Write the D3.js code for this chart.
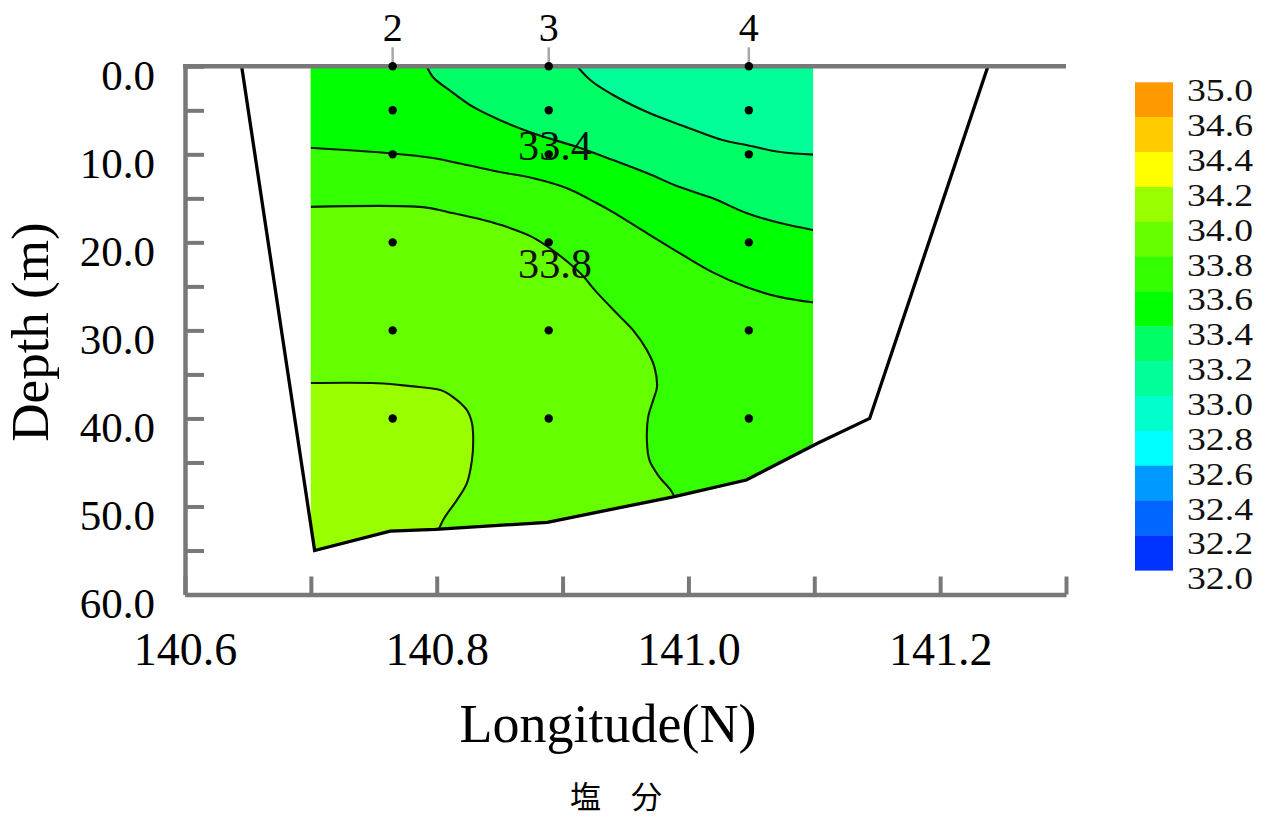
<!DOCTYPE html>
<html><head><meta charset="utf-8">
<script src="https://cdn.jsdelivr.net/npm/d3@7"></script>
<style>body{margin:0;background:#fff}svg{display:block}</style>
</head><body>
<svg id="chart" width="1274" height="817"></svg>
<script>
// ---------- data ----------
const stationNames = ["2", "3", "4"];
const stationLon = [140.765, 140.889, 141.048];
const sampleDepths = [0, 5, 10, 20, 30, 40];

const bottomLon   = [140.645, 140.703, 140.763, 140.799, 140.888, 140.988, 141.046, 141.103, 141.144, 141.238];
const bottomDepth = [0, 55.0, 52.8, 52.6, 51.8, 48.9, 47.0, 42.8, 40.0, 0];

const gridLon = [140.7, 141.099];   // extent of the gridded salinity section

// isolines: [longitude, depth]
const iso332 = [[140.906,-1],[140.922,1.56],[140.943,3.49],[140.969,5.31],[140.996,6.78],[141.027,8.38],[141.046,8.94],[141.073,9.74],[141.11,10.1]];
const iso334 = [[140.789,-1],[140.797,1.22],[140.810,2.69],[140.829,4.62],[140.850,6.10],[140.876,7.58],[140.914,9.28],[140.940,10.65],[140.967,12.13],[140.993,13.72],[141.019,14.97],[141.046,16.67],[141.073,17.81],[141.11,18.9]];
const iso336 = [[140.69,9.17],[140.765,9.9],[140.797,10.42],[140.824,11.22],[140.850,12.01],[140.876,12.69],[140.903,13.83],[140.927,15.53],[140.940,16.56],[140.967,18.94],[140.993,21.22],[141.019,23.38],[141.046,25.08],[141.073,26.22],[141.11,27.0]];
const iso338 = [[140.69,16.0],[140.789,16.0],[140.810,16.6],[140.837,17.47],[140.856,18.26],[140.876,19.40],[140.892,20.88],[140.914,23.49],[140.927,25.65],[140.946,28.49],[140.956,29.97],[140.967,32.24],[140.973,34.17],[140.975,36.44],[140.972,37.92],[140.968,39.85],[140.967,42.47],[140.969,44.74],[140.977,46.67],[140.987,48.38],[140.993,50.5]];
const iso340 = [[140.69,36.0],[140.753,36.0],[140.779,36.33],[140.803,36.78],[140.813,37.58],[140.824,39.06],[140.828,40.53],[140.829,42.47],[140.828,44.74],[140.824,47.35],[140.816,49.28],[140.805,51.56],[140.798,54]];

const isoLevels = [34.0, 33.8, 33.6, 33.4, 33.2];
const isoLines  = [iso340, iso338, iso336, iso334, iso332];
const baseColor = "#99FF00";                         // > 34.0
const bandColors = ["#66FF00", "#33FF00", "#00FF00", "#00FF66", "#00FF99"]; // fresher side of each isoline

const contourLabelText  = ["33.4", "33.8"];
const contourLabelLon   = [140.894, 140.894];
const contourLabelDepth = [10.65, 24.05];

const legendLabels = ["35.0","34.6","34.4","34.2","34.0","33.8","33.6","33.4","33.2","33.0","32.8","32.6","32.4","32.2","32.0"];
const legendColors = ["#FF9900","#FFCC00","#FFFF00","#99FF00","#66FF00","#33FF00","#00FF00","#00FF66","#00FF99","#00FFCC","#00FFFF","#0099FF","#0066FF","#0033FF"];

const xTickValues = [140.6, 140.7, 140.8, 140.9, 141.0, 141.1, 141.2, 141.3];
const yTickValues = [0, 5, 10, 15, 20, 25, 30, 35, 40, 45, 50, 55, 60];

// ---------- drawing ----------
const svg = d3.select("#chart");
const serif = "'Liberation Serif','Times New Roman',serif";
const axisGray = "#787878";

const x = d3.scaleLinear().domain([140.6, 141.3]).range([185, 1066]);
const y = d3.scaleLinear().domain([0, 60]).range([66.3, 594.5]);

const defs = svg.append("defs");
defs.append("clipPath").attr("id", "gridClip")
  .append("rect")
  .attr("x", x(gridLon[0])).attr("y", y(0))
  .attr("width", x(gridLon[1]) - x(gridLon[0]))
  .attr("height", y(60) - y(0));

const waterPts = bottomLon.map((l, i) => [l, bottomDepth[i]]);
const lin = d3.line().x(d => x(d[0])).y(d => y(d[1]));
defs.append("clipPath").attr("id", "waterClip")
  .append("path").attr("d", lin(waterPts) + "Z");

const smooth = d3.line().x(d => x(d[0])).y(d => y(d[1])).curve(d3.curveCatmullRom.alpha(0.5));

const outer = svg.append("g").attr("clip-path", "url(#gridClip)");
const field = outer.append("g").attr("clip-path", "url(#waterClip)");

// base band
field.append("rect")
  .attr("x", x(140.6)).attr("y", y(-5))
  .attr("width", x(141.3) - x(140.6)).attr("height", y(65) - y(-5))
  .attr("fill", baseColor);

// fresher side of each isoline
isoLines.forEach((pts, i) => {
  const first = pts[0], last = pts[pts.length - 1];
  const closing = [[141.3, last[1]], [141.3, -5], [first[0], -5]];
  const d = smooth(pts) + closing.map(p => "L" + x(p[0]) + "," + y(p[1])).join("") + "Z";
  field.append("path").attr("d", d).attr("fill", bandColors[i]).attr("stroke", "none");
});

// isoline strokes
isoLines.forEach(pts => {
  field.append("path").attr("d", smooth(pts))
    .attr("fill", "none").attr("stroke", "#0a1a00").attr("stroke-width", 2.1);
});

// contour labels
contourLabelText.forEach((t, i) => {
  svg.append("text")
    .attr("x", x(contourLabelLon[i])).attr("y", y(contourLabelDepth[i]))
    .attr("text-anchor", "middle")
    .attr("font-family", serif).attr("font-size", 43)
    .attr("textLength", 74).attr("lengthAdjust", "spacingAndGlyphs")
    .attr("fill", "#111").text(t);
});

// bathymetry line
svg.append("path").attr("d", lin(waterPts))
  .attr("fill", "none").attr("stroke", "#000").attr("stroke-width", 3.3)
  .attr("stroke-linejoin", "miter");

// axes
const fmt = d3.format(".1f");
const xAxis = d3.axisBottom(x).tickValues(xTickValues).tickSize(-18).tickSizeOuter(0)
  .tickFormat(d => (Math.round(d * 10) % 2 === 0) ? fmt(d) : "");
const gx = svg.append("g").attr("transform", `translate(0,${y(60)})`).call(xAxis);
gx.select(".domain").attr("stroke", axisGray).attr("stroke-width", 4.5);
gx.selectAll(".tick line").attr("stroke", axisGray).attr("stroke-width", 4);
gx.selectAll(".tick text").attr("y", 70).attr("dy", 0)
  .attr("font-family", serif).attr("font-size", 46).attr("fill", "#000");

const yAxis = d3.axisLeft(y).tickValues(yTickValues).tickSize(-19).tickSizeOuter(0)
  .tickFormat(d => d % 10 === 0 ? fmt(d) : "");
const gy = svg.append("g").attr("transform", `translate(${x(140.6)},0)`).call(yAxis);
gy.select(".domain").attr("stroke", axisGray).attr("stroke-width", 4.5);
gy.selectAll(".tick line").attr("stroke", axisGray).attr("stroke-width", 4);
gy.selectAll(".tick text").attr("x", -30).attr("y", 23).attr("dy", 0)
  .attr("text-anchor", "end")
  .attr("font-family", serif).attr("font-size", 43).attr("fill", "#000");

// top border line
svg.append("line")
  .attr("x1", x(140.6) - 2).attr("x2", x(141.3))
  .attr("y1", y(0)).attr("y2", y(0))
  .attr("stroke", axisGray).attr("stroke-width", 4.5);

// station ticks and labels
stationLon.forEach((l, i) => {
  svg.append("line").attr("x1", x(l)).attr("x2", x(l))
    .attr("y1", y(0) - 19).attr("y2", y(0) - 2)
    .attr("stroke", "#a8a8a8").attr("stroke-width", 2.5);
  svg.append("text").attr("x", x(l)).attr("y", 41)
    .attr("text-anchor", "middle")
    .attr("font-family", serif).attr("font-size", 40).attr("fill", "#000")
    .text(stationNames[i]);
});

// sample points
const samples = d3.cross(stationLon, sampleDepths);
svg.append("g").selectAll("circle").data(samples).join("circle")
  .attr("cx", d => x(d[0])).attr("cy", d => y(d[1])).attr("r", 4.2).attr("fill", "#000");

// axis titles
svg.append("text").attr("x", 608).attr("y", 742).attr("text-anchor", "middle")
  .attr("font-family", serif).attr("font-size", 54).attr("fill", "#000")
  .text("Longitude(N)");
svg.append("text").attr("transform", "translate(48,332) rotate(-90)")
  .attr("text-anchor", "middle")
  .attr("font-family", serif).attr("font-size", 53).attr("fill", "#000")
  .text("Depth (m)");
svg.append("text").attr("x", 616).attr("y", 808).attr("text-anchor", "middle")
  .attr("font-family", "'Noto Sans CJK JP','Noto Sans CJK SC',sans-serif").attr("font-size", 31)
  .attr("word-spacing", 23).attr("fill", "#000")
  .text("塩 分");

// legend
const ly = d3.scaleLinear().domain([0, legendColors.length]).range([82.3, 570.3]);
const lg = svg.append("g");
lg.selectAll("rect").data(legendColors).join("rect")
  .attr("x", 1135).attr("width", 38)
  .attr("y", (d, i) => ly(i)).attr("height", ly(1) - ly(0) + 0.3)
  .attr("fill", d => d);
lg.selectAll("text").data(legendLabels).join("text")
  .attr("x", 1187).attr("y", (d, i) => ly(i) + 19)
  .attr("font-family", serif).attr("font-size", 31)
  .attr("textLength", 66).attr("lengthAdjust", "spacingAndGlyphs")
  .attr("fill", "#111")
  .text(d => d);
</script>
</body></html>
